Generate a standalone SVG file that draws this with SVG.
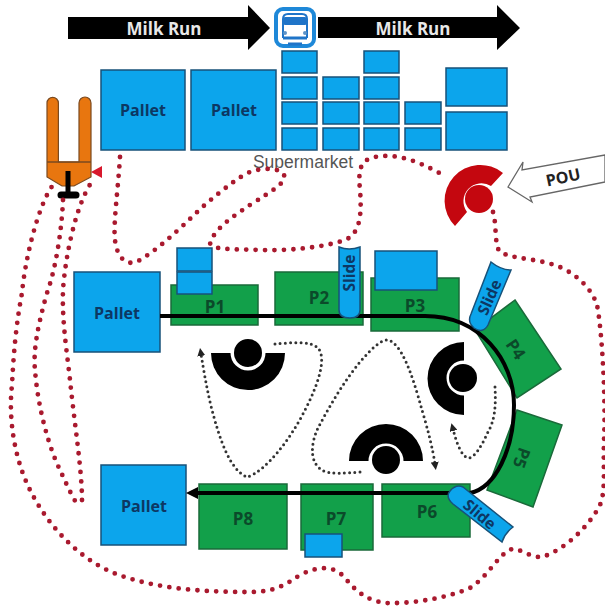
<svg xmlns="http://www.w3.org/2000/svg" width="605" height="606" viewBox="0 0 605 606">
<style>
text{font-family:"Open Sans","Liberation Sans",sans-serif;font-weight:700;text-anchor:middle;dominant-baseline:central}
.b{fill:#0ca5ec;stroke:#17527a;stroke-width:1.5}
.g{fill:#12a04a;stroke:#1a6a3a;stroke-width:1.5}
.t{fill:#0d3763;font-size:16px}
.s{fill:#0d3763;font-size:15.500px}
.gt{fill:#0b4a2a;font-size:17px}
.w{fill:#e8e8e8;font-size:17px}
.k{fill:#000}
.red{fill:none;stroke:#a9192e;stroke-width:4.800;stroke-linecap:round;stroke-dasharray:0 9.400}
.dot{fill:none;stroke:#333;stroke-width:3;stroke-linecap:round;stroke-dasharray:0 5.200}
</style>
<defs>
<marker id="head" markerUnits="userSpaceOnUse" markerWidth="12" markerHeight="14" refX="2" refY="7" orient="auto"><path d="M0 1L12 7L0 13Z" fill="#000"/></marker>
<marker id="dhead" markerUnits="userSpaceOnUse" markerWidth="8" markerHeight="8" refX="2" refY="4" orient="auto"><path d="M0 0L8 4L0 8Z" fill="#222"/></marker>
</defs>
<g id="milk-run-1"><path class="k" d="M68 17H248V5L270 28L248 50V39H68Z"/><text class="w" x="164" y="28">Milk Run</text></g>
<g id="milk-run-2"><path class="k" d="M318 17H497V5L520 28L497 50V38H318Z"/><text class="w" x="413" y="28">Milk Run</text></g>
<g id="bus"><rect x="276" y="9" width="38" height="37" rx="7" fill="#fff" stroke="#1e88d8" stroke-width="4"/><path d="M283 38V19Q283 14 288 14H302Q307 14 307 19V38" fill="none" stroke="#1f74c8" stroke-width="2"/><rect x="283" y="17" width="24" height="8" rx="2" fill="#1f74c8"/><circle cx="285" cy="33" r="2" fill="#5d93c8"/><circle cx="305" cy="33" r="2" fill="#5d93c8"/><path d="M283 38H307M288 44H302" stroke="#1f74c8" stroke-width="3"/></g>
<g id="pallet-a"><rect class="b" x="101" y="70" width="84" height="80"/><text class="t" x="143" y="110">Pallet</text></g>
<g id="pallet-b"><rect class="b" x="191" y="70" width="85" height="80"/><text class="t" x="234" y="110">Pallet</text></g>
<g id="supermarket">
<rect class="b" x="282" y="51" width="35" height="22"/><rect class="b" x="282" y="77" width="35" height="22"/><rect class="b" x="282" y="102" width="35" height="22"/><rect class="b" x="282" y="128" width="35" height="22"/>
<rect class="b" x="323" y="77" width="36" height="22"/><rect class="b" x="323" y="102" width="36" height="22"/><rect class="b" x="323" y="128" width="36" height="22"/>
<rect class="b" x="364" y="51" width="35" height="22"/><rect class="b" x="364" y="77" width="35" height="22"/><rect class="b" x="364" y="102" width="35" height="22"/><rect class="b" x="364" y="128" width="35" height="22"/>
<rect class="b" x="405" y="102" width="36" height="22"/><rect class="b" x="405" y="128" width="36" height="22"/>
<rect class="b" x="446" y="68" width="61" height="38"/><rect class="b" x="446" y="112" width="61" height="38"/>
<text x="303" y="162" fill="#555" font-size="17.500" style="font-weight:400;font-family:'Liberation Sans',sans-serif">Supermarket</text></g>
<g id="forklift"><path d="M47 162V103a5.700 5.700 0 0 1 11.400 0V162H79V103a6 6 0 0 1 12 0V162V177L74 186H62L47 177Z" fill="#e8760f" stroke="#7a4a20" stroke-width="1.200"/><path d="M47 162H91" stroke="#7a4a20" stroke-width="1.500"/><path d="M68 171V195" stroke="#000" stroke-width="5"/><path d="M61 195H76" stroke="#000" stroke-width="7" stroke-linecap="round"/><path d="M91 172L102 166V178Z" fill="#d8182c"/></g>
<g id="pallet-in"><rect class="b" x="74" y="272" width="86" height="80"/><text class="t" x="117" y="313">Pallet</text></g>
<g id="pallet-out"><rect class="b" x="101" y="465" width="85" height="80"/><text class="t" x="144" y="506">Pallet</text></g>
<g id="p1"><rect class="g" x="171" y="285" width="87" height="40"/><text class="gt" x="215" y="306">P1</text><rect class="b" x="177" y="248" width="35" height="23"/><rect class="b" x="177" y="272" width="35" height="22"/></g>
<g id="p2"><rect class="g" x="275" y="272" width="88" height="53"/><text class="gt" x="319" y="297">P2</text></g>
<g id="p3"><rect class="g" x="371" y="278" width="88" height="53"/><text class="gt" x="415" y="305">P3</text><rect class="b" x="375" y="251" width="62" height="39"/></g>
<g id="p4"><path class="g" d="M515 300L561 369L517 398L475 330Z"/><text class="gt" x="516" y="349" transform="rotate(56 516 349)">P4</text></g>
<g id="p5"><path class="g" d="M517 410L562 425L533 507L487 490Z"/><text class="gt" x="522" y="458" transform="rotate(110 522 458)">P5</text></g>
<g id="p6"><rect class="g" x="382" y="484" width="88" height="53"/><text class="gt" x="427" y="511">P6</text></g>
<g id="p7"><rect class="g" x="301" y="484" width="72" height="66"/><text class="gt" x="336" y="518">P7</text><rect class="b" x="305" y="534" width="37" height="23"/></g>
<g id="p8"><rect class="g" x="199" y="484" width="88" height="65"/><text class="gt" x="243" y="518">P8</text></g>
<g id="connectors">
<path d="M160 316H425C480 316 514 360 514 405C514 450 495 488 470 493H196" fill="none" stroke="#000" stroke-width="4" marker-end="url(#head)"/>
<path class="red" d="M120 157C118 190 113 225 115 240C117 258 127 268 140 260C165 245 190 218 207 203C225 188 240 176 250 172C265 167 280 168 284 175C287 183 270 192 250 205C235 215 215 228 210 243C212 250 230 249 260 250C290 251 325 247 345 240C360 234 362 215 360 190C358 170 360 160 375 157C400 152 425 165 443 175"/>
<path class="red" d="M493 212C497 225 494 245 500 252C515 260 540 258 562 268C580 277 592 290 597 305C602 330 606 400 604 440C603 470 606 490 600 505C590 525 565 550 542 557C530 558 520 548 512 549C497 555 490 575 470 588C450 597 415 604 385 603C365 600 355 590 345 578C335 566 320 565 300 575C285 585 275 592 250 592C210 592 165 590 125 577C85 565 50 530 30 490C15 460 8 420 12 385C14 345 17 320 22 293C25 260 38 205 53 185"/>
<path class="red" d="M63 200C62 225 57 265 47 293C38 325 33 350 35 370C38 410 50 450 60 470C66 483 72 497 79 507"/>
<path class="red" d="M82 500C82 470 74 420 70 380C66 345 62 320 63 290C65 260 75 205 93 180"/>
<path class="dot" d="M275 344C290 343 310 340 318 348C327 358 318 385 305 410C290 440 265 472 247 477C230 470 220 440 212 410C207 390 204 372 201 354" marker-end="url(#dhead)"/>
<path class="dot" d="M360 472C345 473 330 475 322 470C310 463 310 445 318 428C330 405 345 380 360 362C372 348 385 335 392 342C405 350 415 385 422 410C428 430 433 450 435 464" marker-end="url(#dhead)"/>
<path class="dot" d="M495 387C496 405 495 420 488 432C482 445 475 458 468 458C460 455 456 440 453 429" marker-end="url(#dhead)"/>
</g>
<g id="slide-p2"><path class="b" d="M339 247Q349 251 360 247V310Q360 318 350 318Q339 318 339 310Z"/><text class="s" x="349" y="273" transform="rotate(-90 349 273)">Slide</text></g>
<g id="slide-p4"><path class="b" d="M491 262Q501 270 511 270L488 325Q483 334 474 328Q467 322 471 314Z"/><text class="s" x="489" y="297" transform="rotate(-66 489 297)">Slide</text></g>
<g id="slide-p6"><path class="b" d="M463 487L513 527Q505 533 502 542L453 504Q445 497 450 491Q456 484 463 487Z"/><text class="s" x="480" y="514" transform="rotate(40 480 514)">Slide</text></g>
<g id="operator-1"><path class="k" d="M211 353H230.500A17.500 17.500 0 0 0 265.500 353H285A37 37 0 0 1 211 353Z"/><circle class="k" cx="248" cy="353" r="14"/></g>
<g id="operator-2"><path class="k" d="M464 342V360.500A17.500 17.500 0 0 0 464 395.500V415A36.500 36.500 0 0 1 464 342Z"/><circle class="k" cx="463" cy="378" r="14"/></g>
<g id="operator-3"><path class="k" d="M349 461H368.500A17.500 17.500 0 0 1 403.500 461H423A37 37 0 0 0 349 461Z"/><circle class="k" cx="386" cy="460" r="14"/></g>
<g id="operator-pou"><path d="M503 173A35.800 35.800 0 0 0 455 226L467 212A18 18 0 0 1 491 186Z" fill="#c4070f"/><circle cx="479" cy="199" r="14" fill="#c4070f"/></g>
<g id="pou"><path d="M508 187L523 162L522 170L605 155V182L530 197L532 202Z" fill="#fff" stroke="#666" stroke-width="1.300"/><text x="563" y="177" fill="#222" font-size="16" transform="rotate(-12 563 177)">POU</text></g>
</svg>
